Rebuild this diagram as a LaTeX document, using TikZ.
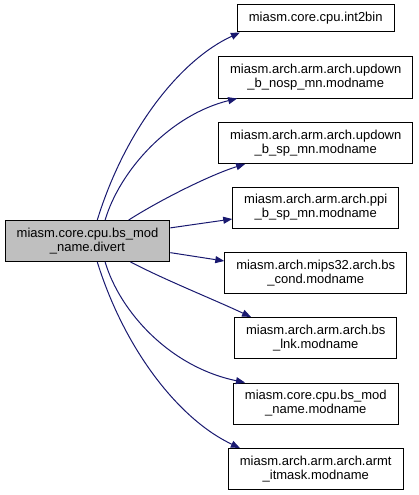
\documentclass[tikz,border=0pt]{standalone}
\usepackage{fontspec}
\setmainfont{Liberation Sans}
\usetikzlibrary{arrows.meta}
\definecolor{edgeblue}{HTML}{191970}

\begin{document}
\begin{tikzpicture}[x=1pt,y=-1pt,>={Triangle[length=9pt,width=7pt]},
  font=\fontsize{13}{14}\selectfont,
  box/.style={draw=black,line width=1pt,align=center,inner xsep=11.5pt,inner ysep=2pt,minimum height=41pt},
  call/.style={->,edgeblue,line width=1pt}]
\useasboundingbox (0,0) rectangle (419,495);
\def\cx{315.75}
\node[box,fill=black!25] (D) at (87.5,241) {miasm.core.cpu.bs\_mod\\\_name.divert};
\node[box,minimum height=27pt] (T1) at (\cx,18.5) {miasm.core.cpu.int2bin};
\node[box] (T2) at (\cx,77.5) {miasm.arch.arm.arch.updown\\\_b\_nosp\_mn.modname};
\node[box] (T3) at (\cx,143) {miasm.arch.arm.arch.updown\\\_b\_sp\_mn.modname};
\node[box] (T4) at (\cx,207.5) {miasm.arch.arm.arch.ppi\\\_b\_sp\_mn.modname};
\node[box] (T5) at (\cx,273) {miasm.arch.mips32.arch.bs\\\_cond.modname};
\node[box] (T6) at (\cx,338) {miasm.arch.arm.arch.bs\\\_lnk.modname};
\node[box] (T7) at (\cx,403.5) {miasm.core.cpu.bs\_mod\\\_name.modname};
\node[box] (T8) at (\cx,469) {miasm.arch.arm.arch.armt\\\_itmask.modname};
% calls out of divert
\draw[call] (D.65) .. controls (125,130) and (180,60) .. ([xshift=3pt]T1.south west);
\draw[call] (D.50) .. controls (120,170) and (170,115) .. ([xshift=19pt]T2.south west);
\draw[call] (D.27) .. controls (160,200) and (210,175) .. ([xshift=27pt]T3.south west);
\draw[call] (D.9) -- ([yshift=-11.5pt]T4.west);
\draw[call] (D.-8) -- ([yshift=12pt]T5.west);
\draw[call] (D.-26) .. controls (165,280) and (215,300) .. ([xshift=17pt]T6.north west);
\draw[call] (D.-50) .. controls (120,312) and (170,367) .. ([xshift=12pt]T7.north west);
\draw[call] (D.-65) .. controls (125,351) and (180,420) .. ([xshift=12pt]T8.north west);
\end{tikzpicture}
\end{document}
